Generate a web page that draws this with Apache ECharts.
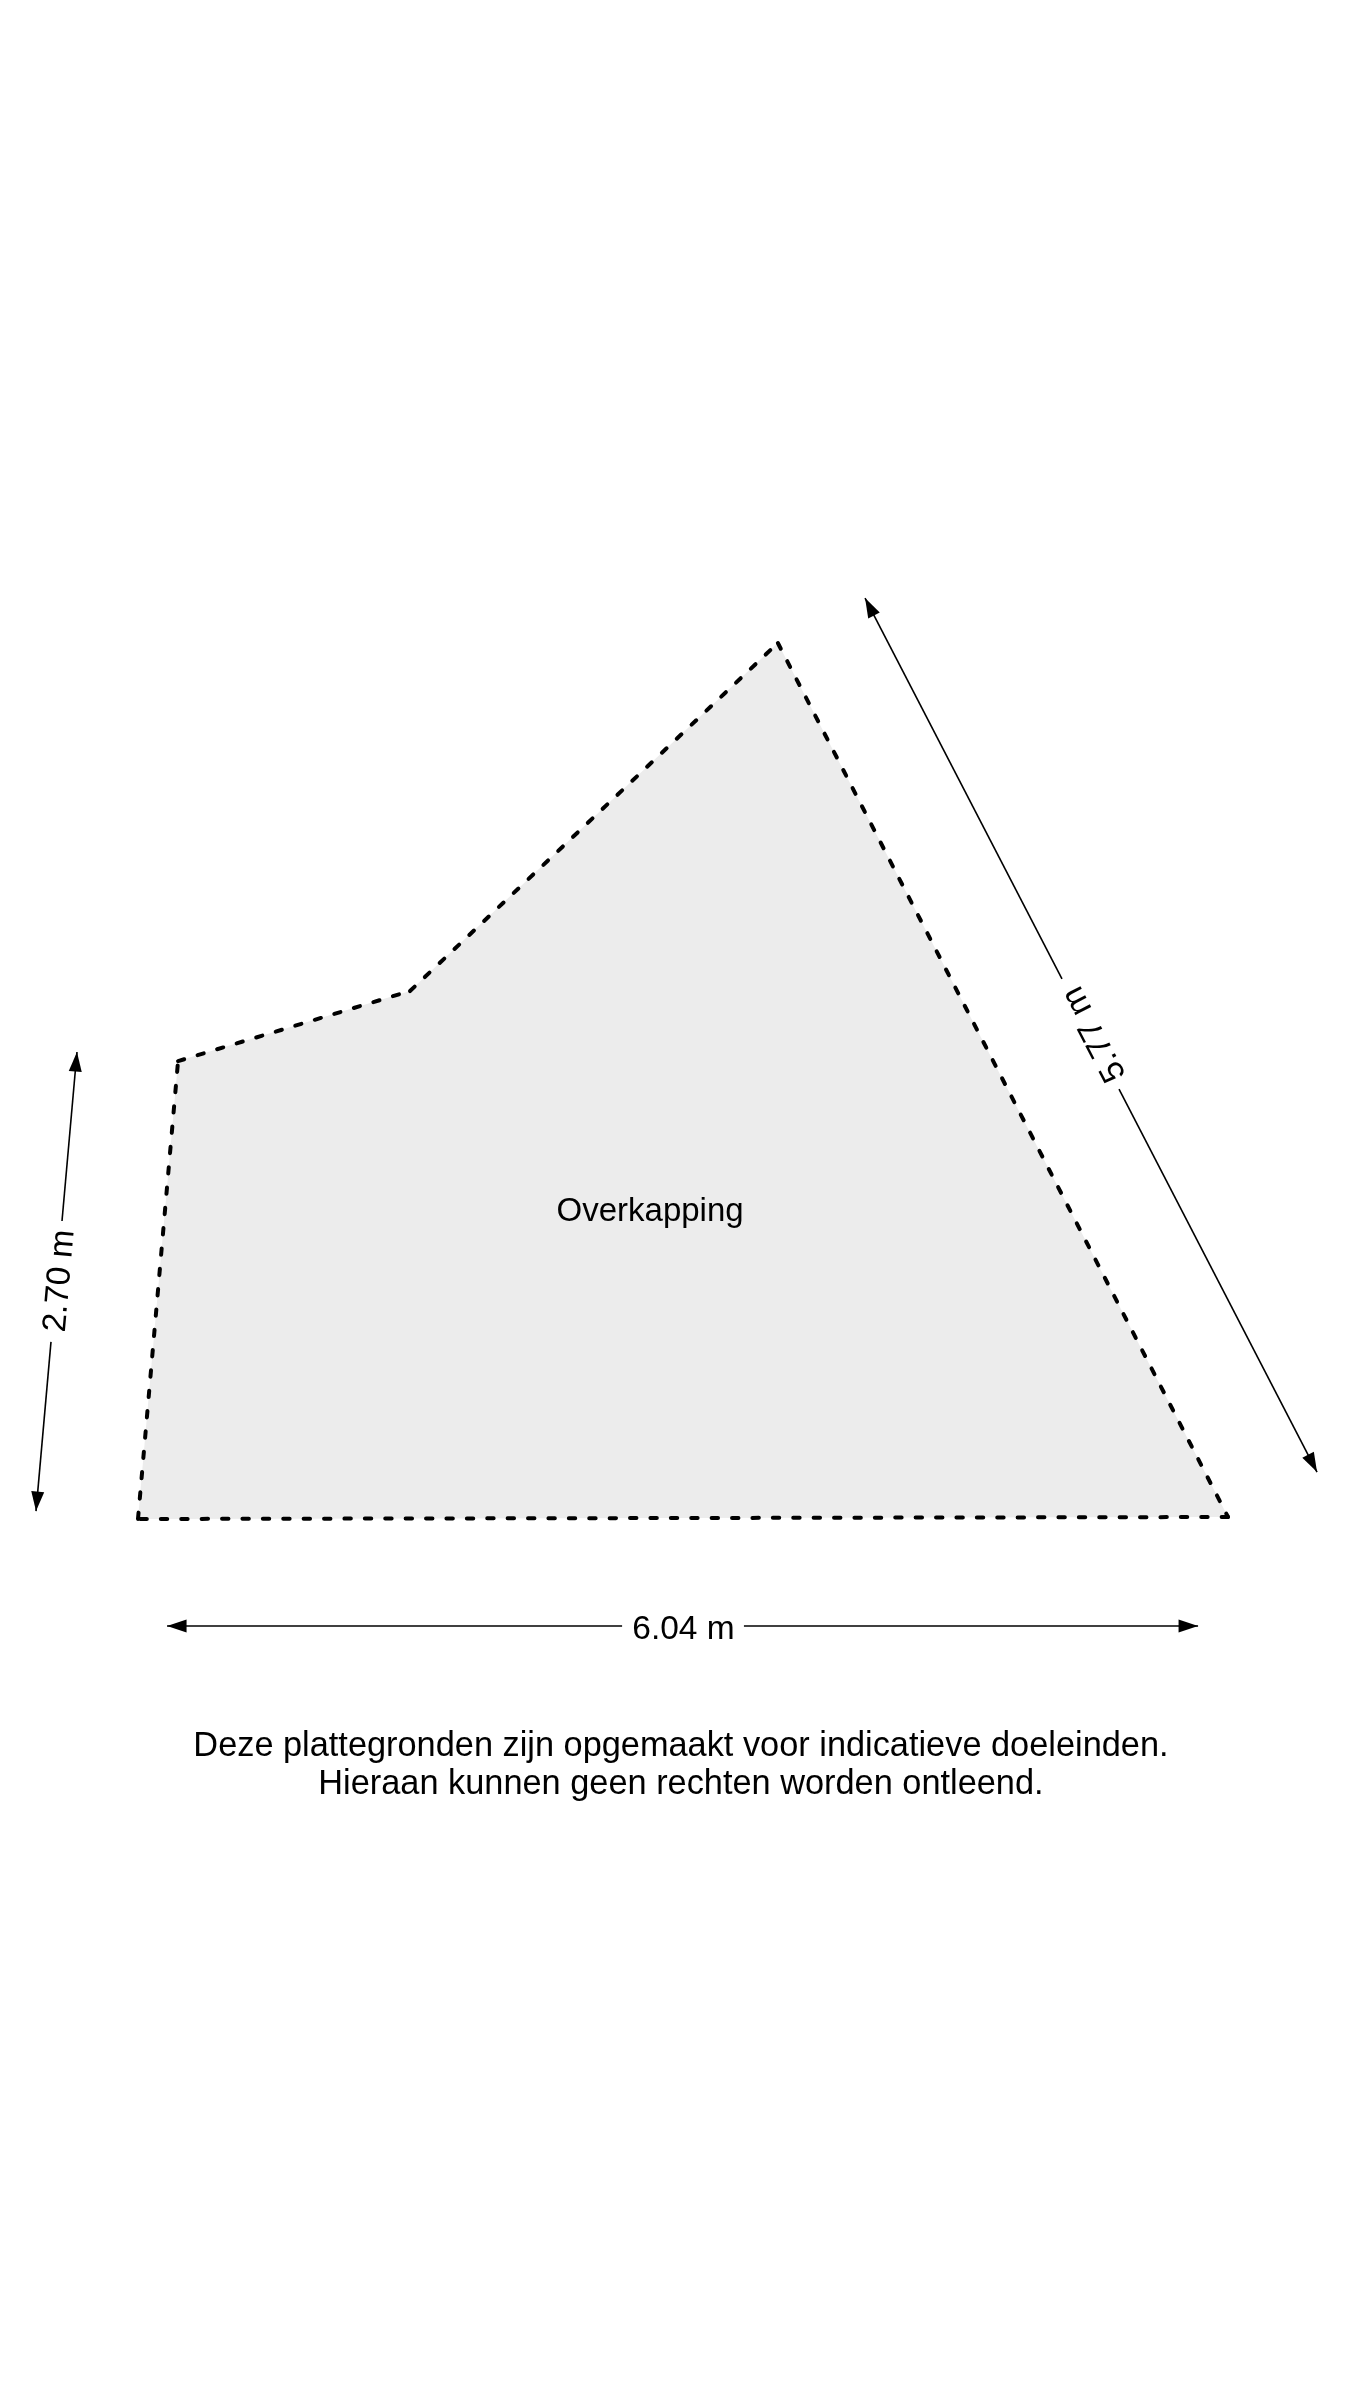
<!DOCTYPE html>
<html>
<head>
<meta charset="utf-8">
<style>html,body{margin:0;padding:0;background:#fff}#c{width:1350px;height:2400px}</style>
<script src="https://cdn.jsdelivr.net/npm/echarts@6/dist/echarts.min.js"></script>
</head>
<body>
<div id="c"></div>
<script>
// Plan geometry, in metres from the lower-left corner of the roof outline.
const outline = [[0, 0], [0.222, 2.537], [1.507, 2.925], [3.545, 4.853], [6.039, 0.011]];
const spaceName = ['Overkapping'];
const spaceAt = [[2.837, 1.7]];

const dimLabels = ['2.70 m', '5.77 m', '6.04 m'];
const dimFrom = [[-0.338, 2.587], [4.028, 5.102], [0.161, -0.593]];
const dimBreakA = [[-0.421, 1.651], [5.119, 2.992], [2.682, -0.593]];
const dimBreakB = [[-0.482, 0.981], [5.435, 2.382], [3.357, -0.593]];
const dimTo = [[-0.565, 0.044], [6.532, 0.26], [5.873, -0.593]];
const dimLabelAt = [[-0.432, 1.319], [5.3, 2.687], [3.022, -0.611]];
const dimLabelAngle = [84.9, 117.3, 0];

const noteLines = ['Deze plattegronden zijn opgemaakt voor indicatieve doeleinden.', 'Hieraan kunnen geen rechten worden ontleend.'];
const noteAt = [[3.008, -1.263], [3.008, -1.473]];

const FONT = '"Liberation Sans", Arial, sans-serif';
const ARROW_L = 19.5, ARROW_W = 13;

function arrowHead(tip, from) {
  const dx = tip[0] - from[0], dy = tip[1] - from[1];
  const len = Math.hypot(dx, dy), ux = dx / len, uy = dy / len;
  const bx = tip[0] - ux * ARROW_L, by = tip[1] - uy * ARROW_L;
  const hw = ARROW_W / 2;
  return {
    type: 'polygon',
    shape: { points: [tip, [bx - uy * hw, by + ux * hw], [bx + uy * hw, by - ux * hw]] },
    style: { fill: '#000' }
  };
}

const chart = echarts.init(document.getElementById('c'));
chart.setOption({
  animation: false,
  backgroundColor: '#ffffff',
  grid: { left: 0, right: 0, top: 0, bottom: 0 },
  xAxis: { type: 'value', min: -0.7645, max: 6.7147, show: false },
  yAxis: { type: 'value', min: -4.8809, max: 8.4155, show: false },
  series: [
    {
      name: 'Fill', type: 'custom', silent: true, clip: false, z: 1,
      coordinateSystem: 'cartesian2d',
      data: [0],
      renderItem(params, api) {
        return {
          type: 'polygon',
          shape: { points: outline.map(p => api.coord(p)) },
          style: { fill: '#ececec', stroke: null }
        };
      }
    },
    {
      name: 'Edges', type: 'custom', silent: true, clip: false, z: 2,
      coordinateSystem: 'cartesian2d',
      data: outline.map((p, i) => i),
      renderItem(params, api) {
        const i = params.dataIndex;
        const a = api.coord(outline[i]), b = api.coord(outline[(i + 1) % outline.length]);
        return {
          type: 'line',
          shape: { x1: a[0], y1: a[1], x2: b[0], y2: b[1] },
          style: { stroke: '#000', lineWidth: 4, lineDash: [6.4, 14], lineCap: 'round', fill: null }
        };
      }
    },
    {
      name: 'Dimensions', type: 'custom', silent: true, clip: false, z: 3,
      coordinateSystem: 'cartesian2d',
      data: dimLabels.map((t, i) => i),
      renderItem(params, api) {
        const i = params.dataIndex;
        const f = api.coord(dimFrom[i]), a = api.coord(dimBreakA[i]);
        const b = api.coord(dimBreakB[i]), t = api.coord(dimTo[i]);
        const c = api.coord(dimLabelAt[i]);
        const ln = (p, q) => ({
          type: 'line',
          shape: { x1: p[0], y1: p[1], x2: q[0], y2: q[1] },
          style: { stroke: '#000', lineWidth: 1.6, fill: null }
        });
        return {
          type: 'group',
          children: [
            ln(f, a), ln(b, t), arrowHead(f, a), arrowHead(t, b),
            {
              type: 'text',
              x: c[0], y: c[1],
              rotation: dimLabelAngle[i] * Math.PI / 180,
              style: { text: dimLabels[i], font: '33.5px ' + FONT, fill: '#000', align: 'center', verticalAlign: 'middle' }
            }
          ]
        };
      }
    },
    {
      name: 'Texts', type: 'custom', silent: true, clip: false, z: 4,
      coordinateSystem: 'cartesian2d',
      data: [0],
      renderItem(params, api) {
        const items = spaceName.map((t, i) => ({ t, at: spaceAt[i], size: 33 }))
          .concat(noteLines.map((t, i) => ({ t, at: noteAt[i], size: 34.35 })));
        return {
          type: 'group',
          children: items.map(o => {
            const c = api.coord(o.at);
            return {
              type: 'text', x: c[0], y: c[1],
              style: { text: o.t, font: o.size + 'px ' + FONT, fill: '#000', align: 'center', verticalAlign: 'middle' }
            };
          })
        };
      }
    }
  ]
});
</script>
</body>
</html>
